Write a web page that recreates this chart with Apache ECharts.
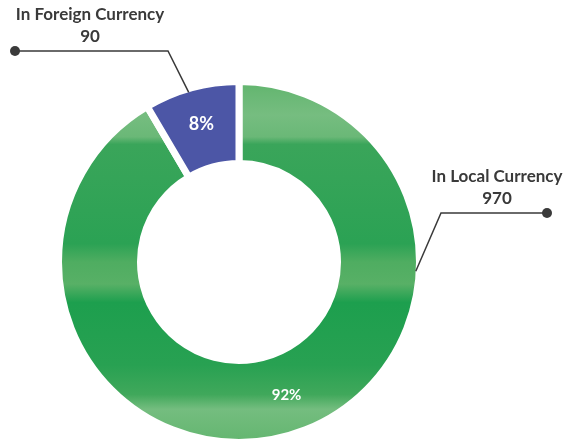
<!DOCTYPE html>
<html>
<head>
<meta charset="utf-8">
<script src="https://cdn.jsdelivr.net/npm/echarts@6/dist/echarts.min.js"></script>
<style>
  html, body { margin: 0; padding: 0; background: #ffffff; }
  #chart { width: 573px; height: 441px; }
</style>
</head>
<body>
<div id="chart"></div>
<script>
// Currency split of the total
const categories = ['In Local Currency', 'In Foreign Currency'];
const values = [970, 90];

// Ring geometry (px)
const CENTER = [239, 262];
const R_IN = 102;
const R_OUT = 177;
const GAP = 7;

// Leader line routing for the outside labels: anchor angle on the ring
// (degrees clockwise from 12 o'clock), elbow, free end (dot) and text centre.
const leaders = [
  { anchorDeg: 93, elbow: [441, 213], end: [547, 213], textX: 497 },
  { anchorDeg: -16.5, elbow: [168, 51], end: [15, 51], textX: 90 }
];

const INK = '#3a3a3a';
const FONT = 'Lato, "Open Sans", sans-serif';

const greenFill = {
  type: 'linear', x: 0, y: 0, x2: 0, y2: 1,
  colorStops: [
    { offset: 0.00, color: '#5fb46c' },
    { offset: 0.10, color: '#76bd80' },
    { offset: 0.16, color: '#6ab877' },
    { offset: 0.18, color: '#3aa55a' },
    { offset: 0.45, color: '#2ba254' },
    { offset: 0.50, color: '#4fad61' },
    { offset: 0.56, color: '#58b066' },
    { offset: 0.61, color: '#1d9f4e' },
    { offset: 0.78, color: '#28a152' },
    { offset: 0.86, color: '#40a85b' },
    { offset: 0.90, color: '#74bd7f' },
    { offset: 1.00, color: '#62b56e' }
  ]
};
const blueFill = '#4c56a6';
const fills = [greenFill, blueFill];

const ringData = categories.map((name, i) => ({
  name, value: values[i], itemStyle: { color: fills[i] }
}));
// 92% sits a little off the slice centre
ringData[0].label = { fontSize: 15, offset: [10, -4] };

function anchorPoint(deg) {
  const a = deg * Math.PI / 180;
  return [CENTER[0] + R_OUT * Math.sin(a), CENTER[1] - R_OUT * Math.cos(a)];
}

const chart = echarts.init(document.getElementById('chart'), null, { renderer: 'canvas' });

chart.setOption({
  animation: false,
  backgroundColor: '#ffffff',
  graphic: [
    {
      type: 'ellipse', z: 0,
      shape: { cx: CENTER[0] + 1, cy: CENTER[1] + R_OUT + 3, rx: 88, ry: 7 },
      style: {
        fill: {
          type: 'radial', x: 0.5, y: 0.5, r: 0.5,
          colorStops: [
            { offset: 0, color: 'rgba(60,60,60,0.45)' },
            { offset: 1, color: 'rgba(60,60,60,0)' }
          ]
        }
      },
      silent: true
    }
  ].concat(leaders.map(l => ({
    type: 'circle', z: 100,
    shape: { cx: l.end[0], cy: l.end[1], r: 5 },
    style: { fill: INK },
    silent: true
  }))),
  series: [
    {
      type: 'pie',
      center: CENTER,
      radius: [R_IN - GAP / 2, R_OUT + GAP / 2],
      startAngle: 90,
      clockwise: true,
      silent: true,
      itemStyle: { borderColor: '#ffffff', borderWidth: GAP },
      label: {
        show: true,
        position: 'inside',
        color: '#ffffff',
        fontFamily: FONT,
        fontWeight: 'bold',
        fontSize: 18,
        formatter: p => Math.round(p.percent) + '%'
      },
      labelLine: { show: false },
      data: ringData
    },
    {
      type: 'pie',
      center: CENTER,
      radius: [R_IN, R_OUT],
      startAngle: 90,
      clockwise: true,
      silent: true,
      z: 5,
      itemStyle: { color: 'rgba(0,0,0,0)' },
      label: {
        show: true,
        position: 'outside',
        overflow: 'none',
        width: 200,
        fontFamily: FONT,
        color: INK,
        formatter: p => '{n|' + p.name + '}\n{v|' + p.value + '}',
        rich: {
          n: { fontFamily: FONT, fontWeight: 'bold', fontSize: 17, color: INK, lineHeight: 22, align: 'center' },
          v: { fontFamily: FONT, fontWeight: 'bold', fontSize: 17, color: INK, lineHeight: 22, align: 'center' }
        }
      },
      labelLine: { show: true, lineStyle: { color: INK, width: 1.5 } },
      labelLayout: p => {
        const l = leaders[p.dataIndex];
        return {
          x: l.textX,
          y: l.end[1] - 3,
          align: 'center',
          verticalAlign: 'bottom',
          labelLinePoints: [anchorPoint(l.anchorDeg), l.elbow, l.end]
        };
      },
      data: categories.map((name, i) => ({ name, value: values[i] }))
    }
  ]
});
</script>
</body>
</html>
